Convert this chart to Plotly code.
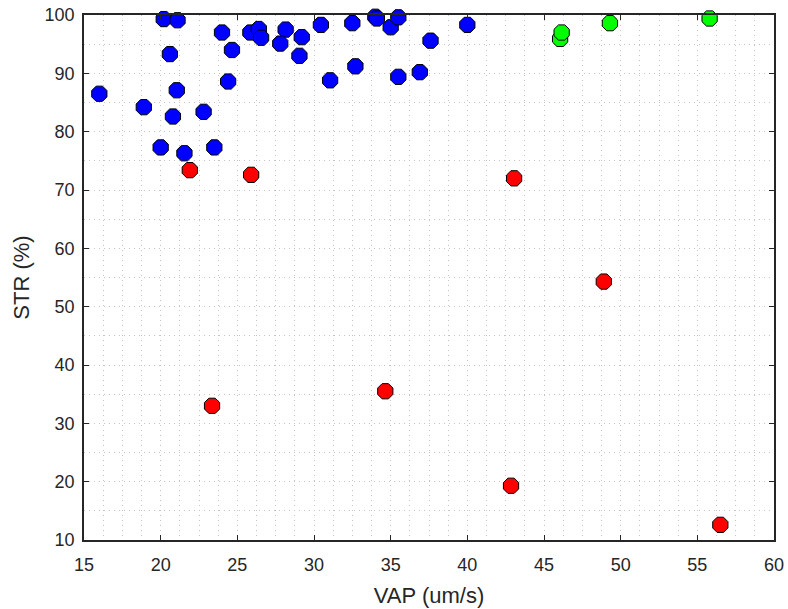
import plotly.graph_objects as go

# Blue group
blue_vap = [16.0, 20.2, 21.1, 20.6, 21.05, 18.9, 20.8, 22.8, 20.0, 21.55, 23.5,
            24.0, 24.65, 24.4, 25.85, 26.4, 26.55, 28.15, 27.8, 29.2, 29.05,
            30.45, 31.05, 32.5, 32.7, 34.0, 34.1, 35.0, 35.5, 35.5, 36.9, 37.6, 40.0]
blue_str = [86.5, 99.3, 99.1, 93.3, 87.1, 84.2, 82.6, 83.4, 77.3, 76.3, 77.3,
            97.0, 94.0, 88.6, 97.0, 97.6, 96.1, 97.5, 95.1, 96.2, 93.0,
            98.3, 88.8, 98.6, 91.2, 99.7, 99.4, 97.9, 99.6, 89.4, 90.2, 95.6, 98.3]

# Red group
red_vap = [21.9, 25.9, 43.05, 48.9, 23.35, 34.65, 42.85, 56.5]
red_str = [73.4, 72.6, 72.0, 54.3, 33.0, 35.5, 19.3, 12.6]

# Green group
green_vap = [46.05, 46.15, 49.3, 55.8]
green_str = [95.9, 97.0, 98.6, 99.4]

x_ticks = [15, 20, 25, 30, 35, 40, 45, 50, 55, 60]
y_ticks = [10, 20, 30, 40, 50, 60, 70, 80, 90, 100]

AXIS = "#262626"
GRID = "#c4c4c4"
DOTS = "1px,4px"
FONT = "Liberation Sans, Arial, sans-serif"

fig = go.Figure()
for xs, ys, col in [(blue_vap, blue_str, "#0000ff"),
                    (red_vap, red_str, "#ff0000"),
                    (green_vap, green_str, "#00ff00")]:
    fig.add_trace(go.Scatter(
        x=xs, y=ys, mode="markers", cliponaxis=False,
        marker=dict(symbol="octagon", size=16.5, color=col,
                    line=dict(color="#000000", width=1)),
        showlegend=False, hoverinfo="x+y"))

axis_common = dict(
    showline=True, linecolor=AXIS, linewidth=1.5, mirror="ticks",
    ticks="inside", ticklen=5, tickwidth=1.2, tickcolor=AXIS,
    showgrid=True, gridcolor=GRID, griddash=DOTS, gridwidth=1,
    zeroline=False,
    tickfont=dict(family=FONT, size=18, color=AXIS),
)

fig.update_xaxes(
    range=[15, 60], tickvals=x_ticks, ticktext=[str(v) for v in x_ticks],
    minor=dict(dtick=1.25, tick0=15, showgrid=True, gridcolor=GRID,
               griddash=DOTS, gridwidth=1, ticks=""),
    ticklabelstandoff=8,
    title=dict(text="VAP (um/s)", standoff=13,
               font=dict(family=FONT, size=22, color=AXIS)),
    **axis_common)
fig.update_yaxes(
    range=[10, 100], tickvals=y_ticks, ticktext=[str(v) for v in y_ticks],
    minor=dict(dtick=5, tick0=10, showgrid=True, gridcolor=GRID,
               griddash=DOTS, gridwidth=1, ticks=""),
    ticklabelstandoff=4,
    title=dict(text="STR (%)", standoff=9,
               font=dict(family=FONT, size=22, color=AXIS)),
    **axis_common)

fig.update_layout(
    width=788, height=609,
    margin=dict(l=84, r=14, t=15, b=69, autoexpand=False),
    paper_bgcolor="#ffffff", plot_bgcolor="#ffffff",
)

fig.write_html("out.html")
